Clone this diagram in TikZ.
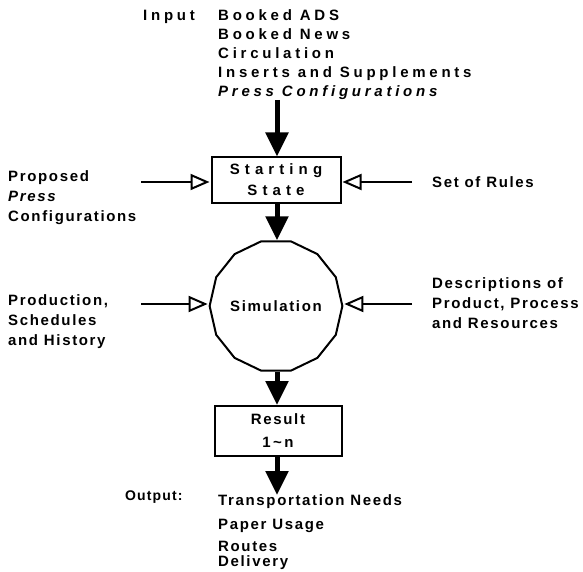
\documentclass[tikz,border=0pt]{standalone}
\usepackage{fontspec}
\usepackage{tikz}
\usetikzlibrary{arrows.meta,positioning,shapes.geometric}
\newfontfamily\topfont[LetterSpace=25]{Liberation Sans}
\newfontfamily\sidefont[LetterSpace=11]{Liberation Sans}
\newfontfamily\statefont[LetterSpace=34]{Liberation Sans}
\newfontfamily\outfont[LetterSpace=8]{Liberation Sans}

\tikzset{
  lbl/.style={font=\sidefont\bfseries\fontsize{15}{20}\selectfont, inner sep=0pt, align=left},
  toplbl/.style={font=\topfont\bfseries\fontsize{15}{19}\selectfont, inner sep=0pt, align=left},
  stepbox/.style={draw, line width=2pt, minimum width=129pt, inner sep=0pt, align=center},
  bigarrow/.style={line width=5pt, -{Triangle[length=24pt,width=22pt]}},
  sidearrow/.style={line width=1.6pt, -{Triangle[open,length=19pt,width=16pt,line width=2pt]}, shorten >=1pt}
}

\begin{document}
\begin{tikzpicture}[x=1pt,y=-1pt]
  \useasboundingbox (0,0) rectangle (583,572);

  % Input list
  \node[toplbl, anchor=base west] (inLbl) at (143,20.4) {Input};
  \node[toplbl, anchor=north west] (inList) at (218,9.6) {Booked ADS\\Booked News\\Circulation\\Inserts and Supplements\\\itshape Press Configurations};

  % Boxes and simulation
  \node[stepbox, minimum height=45pt, font=\statefont\bfseries\fontsize{15}{21}\selectfont] (start) at (276,180) {Starting\\State};
  \node[draw, line width=2pt, regular polygon, regular polygon sides=14, minimum size=128pt, inner sep=0pt,
        font=\sidefont\bfseries\fontsize{15}{20}\selectfont] (sim) at (276,306) {Simulation};
  \node[stepbox, minimum height=50pt, minimum width=127pt, font=\sidefont\bfseries\fontsize{15}{23}\selectfont] (result) at (278,431) {Result\\1\,\textasciitilde\,n};

  % Side inputs
  \node[lbl, anchor=north west] (proposed) at (8,170.6) {Proposed\\\itshape Press\\Configurations};
  \node[lbl, anchor=base west] (rules) at (432,187.4) {Set of Rules};
  \node[lbl, anchor=north west] (prodn) at (8,294.6) {Production,\\Schedules\\and History};
  \node[lbl, anchor=north west] (descr) at (432,277.6) {Descriptions of\\Product, Process\\and Resources};

  % Output list
  \node[font=\outfont\bfseries\fontsize{14}{18}\selectfont, anchor=base west, inner sep=0pt] (outLbl) at (125,500) {Output:};
  \node[lbl, anchor=north west] (outList) at (218,494.6) {Transportation Needs\\[4pt]Paper Usage\\[2pt]Routes\\[-5pt]Delivery};

  % free arrow ends
  \coordinate (inTop) at (277,100);
  \coordinate (propEnd) at (141,182);
  \coordinate (rulesEnd) at (412,182);
  \coordinate (prodEnd) at (141,304);
  \coordinate (descrEnd) at (412,304);
  \coordinate (outTip) at (277,495);

  % Connectors
  \draw[bigarrow] (inTop) -- (start.north -| inTop);
  \draw[bigarrow] (start.south -| inTop) -- (sim.north -| inTop);
  \draw[bigarrow] (sim.south -| inTop) -- (result.north -| inTop);
  \draw[bigarrow] (result.south -| inTop) -- (outTip);
  \draw[sidearrow] (propEnd) -- (start.west |- propEnd);
  \draw[sidearrow] (rulesEnd) -- (start.east |- rulesEnd);
  \draw[sidearrow] (prodEnd) -- (sim.west |- prodEnd);
  \draw[sidearrow] (descrEnd) -- (sim.east |- descrEnd);
\end{tikzpicture}
\end{document}
